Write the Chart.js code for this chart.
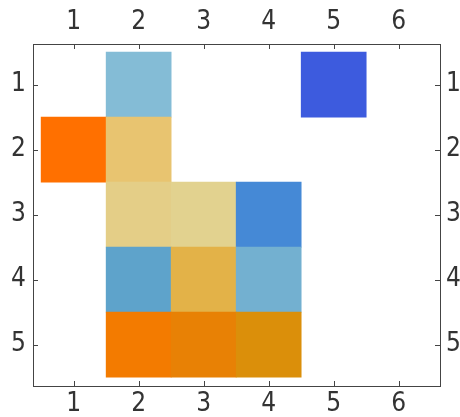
<!DOCTYPE html>
<html>
<head>
<meta charset="utf-8">
<script src="https://cdn.jsdelivr.net/npm/chart.js@4.4.0/dist/chart.umd.min.js"></script>
<style>
  html, body { margin: 0; padding: 0; background: #fff; }
  #wrap { width: 460px; height: 417px; }
</style>
</head>
<body>
<div id="wrap"><canvas id="matrix" width="460" height="417"></canvas></div>
<script>
// matrix values, row by row (0 = empty cell)
var rowLabels = [1, 2, 3, 4, 5];
var colLabels = [1, 2, 3, 4, 5, 6];
var row1 = [0, -0.3, 0, 0, -1, 0];
var row2 = [1, 0.3, 0, 0, 0, 0];
var row3 = [0, 0.2, 0.15, -0.7, 0, 0];
var row4 = [0, -0.5, 0.45, -0.4, 0, 0];
var row5 = [0, 0.9, 0.8, 0.7, 0, 0];
var rows = [row1, row2, row3, row4, row5];

// colour function: blue for negative, sand/orange for positive
var colorStops = [
    [-1.0, [61, 91, 222]],
    [-0.7, [69, 137, 214]],
    [-0.5, [94, 163, 203]],
    [-0.4, [115, 176, 208]],
    [-0.3, [132, 188, 214]],
    [0.15, [226, 210, 143]],
    [0.2, [228, 206, 135]],
    [0.3, [232, 196, 112]],
    [0.45, [227, 178, 72]],
    [0.7, [219, 143, 10]],
    [0.8, [232, 129, 5]],
    [0.9, [243, 123, 0]],
    [1.0, [255, 112, 0]]
];

function colorFor(v) {
    for (var i = 1; i < colorStops.length; i++) {
        if (v <= colorStops[i][0]) {
            var a = colorStops[i - 1], b = colorStops[i];
            var t = (v - a[0]) / (b[0] - a[0]);
            var c = a[1].map(function (ca, k) { return Math.round(ca + (b[1][k] - ca) * t); });
            return 'rgb(' + c.join(',') + ')';
        }
    }
    return 'rgb(' + colorStops[colorStops.length - 1][1].join(',') + ')';
}

var cells = [];
rows.forEach(function (r, ri) {
    r.forEach(function (v, ci) {
        if (v !== 0) {
            cells.push({ x: colLabels[ci], y: [rowLabels[ri] - 0.5, rowLabels[ri] + 0.5], v: v });
        }
    });
});

var tickFont = { family: "'Liberation Sans Narrow', 'DejaVu Sans Condensed', sans-serif", size: 26, lineHeight: 1 };
var frameColor = '#444';

function axis(position, ticksList, min, max, padding, size, reverse) {
    return {
        type: 'linear',
        position: position,
        min: min,
        max: max,
        offset: false,
        reverse: !!reverse,
        afterBuildTicks: function (scale) {
            scale.ticks = ticksList.map(function (v) { return { value: v }; });
        },
        afterFit: function (scale) {
            if (position === 'top' || position === 'bottom') scale.height = size;
            else scale.width = size;
        },
        border: { display: true, color: frameColor, width: 1 },
        grid: { offset: false, drawOnChartArea: false, drawTicks: false },
        ticks: { font: tickFont, color: '#333', padding: padding, autoSkip: false, maxRotation: 0 }
    };
}

// small tick marks pointing into the frame, on all four sides
var innerTicks = {
    id: 'innerTicks',
    afterDraw: function (chart) {
        var c = chart.ctx, a = chart.chartArea, len = 5;
        c.save();
        c.strokeStyle = frameColor;
        c.lineWidth = 1;
        c.beginPath();
        colLabels.forEach(function (v) {
            var px = Math.round(chart.scales.x.getPixelForValue(v)) + 0.5;
            c.moveTo(px, a.bottom); c.lineTo(px, a.bottom - len);
            c.moveTo(px, a.top); c.lineTo(px, a.top + len);
        });
        rowLabels.forEach(function (v) {
            var py = Math.round(chart.scales.y.getPixelForValue(v)) + 0.5;
            c.moveTo(a.left, py); c.lineTo(a.left + len, py);
            c.moveTo(a.right, py); c.lineTo(a.right - len, py);
        });
        c.stroke();
        c.restore();
    }
};

var ctx = document.getElementById('matrix').getContext('2d');
var chart = new Chart(ctx, {
    type: 'bar',
    data: {
        datasets: [{
            data: cells,
            backgroundColor: function (c) { return c.raw ? colorFor(c.raw.v) : '#fff'; },
            borderWidth: 0,
            categoryPercentage: 1.0,
            barPercentage: 1.0,
            xAxisID: 'x',
            yAxisID: 'y'
        }]
    },
    options: {
        responsive: false,
        animation: false,
        layout: { padding: 0 },
        plugins: { legend: { display: false }, tooltip: { enabled: false } },
        scales: {
            x: axis('bottom', colLabels, 0.375, 6.635, 5, 31),
            x2: axis('top', colLabels, 0.375, 6.635, 9, 44),
            y: axis('left', rowLabels, 0.375, 5.635, 7, 33, true),
            y2: axis('right', rowLabels, 0.375, 5.635, 6, 20, true)
        }
    },
    plugins: [innerTicks]
});
</script>
</body>
</html>
